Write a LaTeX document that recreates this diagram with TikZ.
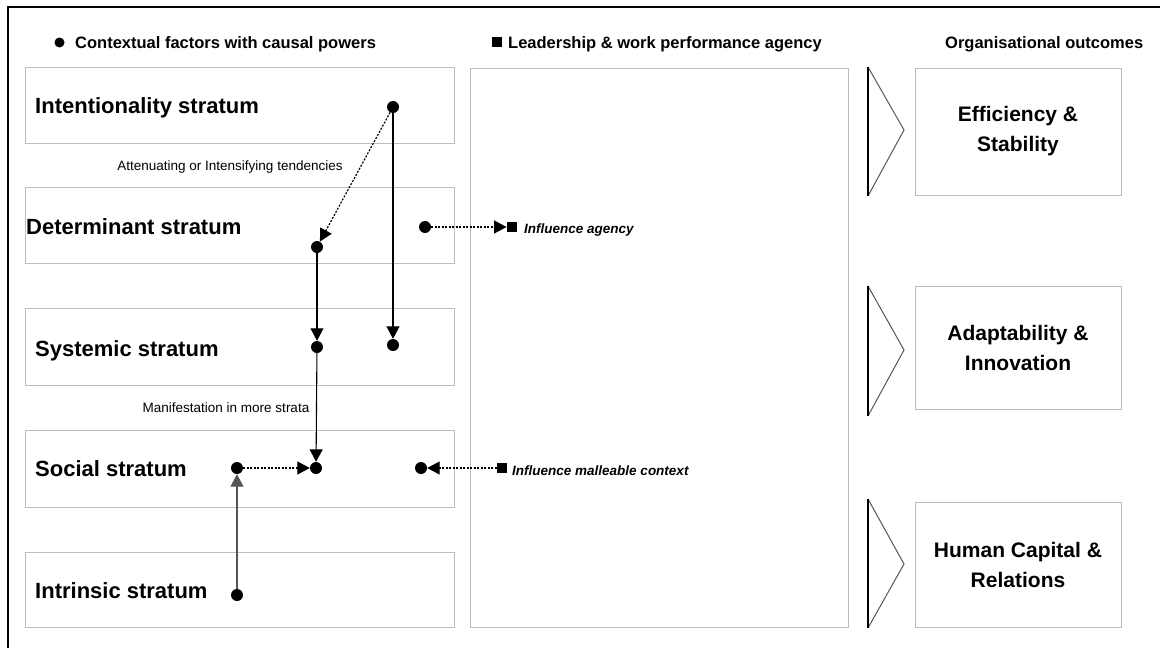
\documentclass[tikz,border=0pt]{standalone}
\usepackage{fontspec}
\setmainfont{Liberation Sans}
\usetikzlibrary{arrows.meta}
\definecolor{boxgrey}{HTML}{BDBDBD}
\definecolor{triedge}{HTML}{555555}
\tikzset{
  stbox/.style={draw=boxgrey, line width=1pt, anchor=north west, inner sep=0pt},
  stlabel/.style={anchor=base west, inner sep=0pt, font=\fontsize{22}{26}\selectfont\bfseries},
  headlabel/.style={anchor=base west, inner sep=0pt, font=\fontsize{16.5}{20}\selectfont\bfseries},
  smalllabel/.style={anchor=base, inner sep=0pt, font=\fontsize{13.5}{16}\selectfont},
  inflabel/.style={anchor=base west, inner sep=0pt, font=\fontsize{13.5}{16}\selectfont\bfseries\itshape},
  outbox/.style={draw=boxgrey, line width=1pt, inner sep=0pt, minimum width=206pt, align=center,
     font=\fontsize{21}{30}\selectfont\bfseries},
  dot/.style={circle, fill=black, inner sep=0pt, minimum size=12pt},
  sq/.style={rectangle, fill=black, inner sep=0pt, minimum size=10.5pt},
  conn/.style={line width=1.1pt, -{Triangle[length=12.5pt,width=13pt]}},
  dconn/.style={line width=1.2pt, dash pattern=on 2pt off 1.5pt, -{Triangle[length=12.5pt,width=13pt]}},
  tri/.style={draw=triedge, line width=1pt},
  trileft/.style={draw=black, line width=1.1pt}
}
\begin{document}
\begin{tikzpicture}[x=1pt,y=-1pt]
\useasboundingbox (0,0) rectangle (1160,648);
% frame
\draw[line width=1.3pt] (8,650) -- (8,7) -- (1162,7);

% headers
\node[dot, minimum size=10pt] (hb1) at (59.5,42.5) {};
\node[headlabel] (h1) at (75,48) {Contextual factors with causal powers};
\node[sq] (hb2) at (497,42) {};
\node[headlabel] (h2) at (508,48) {Leadership \& work performance agency};
\node[headlabel] (h3) at (945,48) {Organisational outcomes};

% strata boxes
\node[stbox, minimum width=429pt, minimum height=76pt] (intent) at (25,67) {};
\node[stbox, minimum width=429pt, minimum height=76pt] (determ) at (25,187) {};
\node[stbox, minimum width=429pt, minimum height=77pt] (system) at (25,308) {};
\node[stbox, minimum width=429pt, minimum height=77pt] (social) at (25,430) {};
\node[stbox, minimum width=429pt, minimum height=75pt] (intrin) at (25,552) {};
\node[stlabel] (lintent) at (35,113) {Intentionality stratum};
\node[stlabel] (ldeterm) at (26,234) {Determinant stratum};
\node[stlabel] (lsystem) at (35,356) {Systemic stratum};
\node[stlabel] (lsocial) at (35,476) {Social stratum};
\node[stlabel] (lintrin) at (35,598) {Intrinsic stratum};

\node[smalllabel] (att) at (230,170) {Attenuating or Intensifying tendencies};
\node[smalllabel] (man) at (226,412) {Manifestation in more strata};

% middle box
\node[stbox, minimum width=378pt, minimum height=559pt] (mid) at (470,68) {};

% triangles
\draw[tri] (868,67) -- (904,130) -- (868,196);
\draw[trileft] (868,67) -- (868,196);
\draw[tri] (868,286) -- (904,350) -- (868,416);
\draw[trileft] (868,286) -- (868,416);
\draw[tri] (868,499) -- (904,564) -- (868,628);
\draw[trileft] (868,499) -- (868,628);

% outcome boxes
\node[outbox, minimum height=127pt] (o1) at (1018,131.5) {Efficiency \&\\Stability};
\node[outbox, minimum height=123pt] (o2) at (1018,347.5) {Adaptability \&\\Innovation};
\node[outbox, minimum height=125pt] (o3) at (1018,564.5) {Human Capital \&\\Relations};

% dots
\node[dot] (di) at (393,107) {};
\node[dot] (dd) at (317,247) {};
\node[dot] (ddr) at (425,227) {};
\node[dot] (ds1) at (317,347) {};
\node[dot] (ds2) at (393,345) {};
\node[dot] (dso1) at (237,468) {};
\node[dot] (dso2) at (316,468) {};
\node[dot] (dso3) at (421,468) {};
\node[dot] (dint) at (237,595) {};
\node[sq] (q1) at (512,227) {};
\node[sq] (q2) at (502,468) {};

% influence labels
\node[inflabel] (ia) at (524,233) {Influence agency};
\node[inflabel] (im) at (512,475) {Influence malleable context};

% connectors
\draw[dconn] (di) -- (dd);
\draw[conn] (di) -- (ds2);
\draw[conn] (dd) -- (ds1);
\draw[conn] (ds1) -- (dso2);
\draw[conn, draw=triedge] (dint) -- (dso1);
\draw[dconn] (dso1) -- (dso2);
\draw[dconn] (ddr) -- (q1);
\draw[dconn] (q2) -- (dso3);
\end{tikzpicture}
\end{document}
